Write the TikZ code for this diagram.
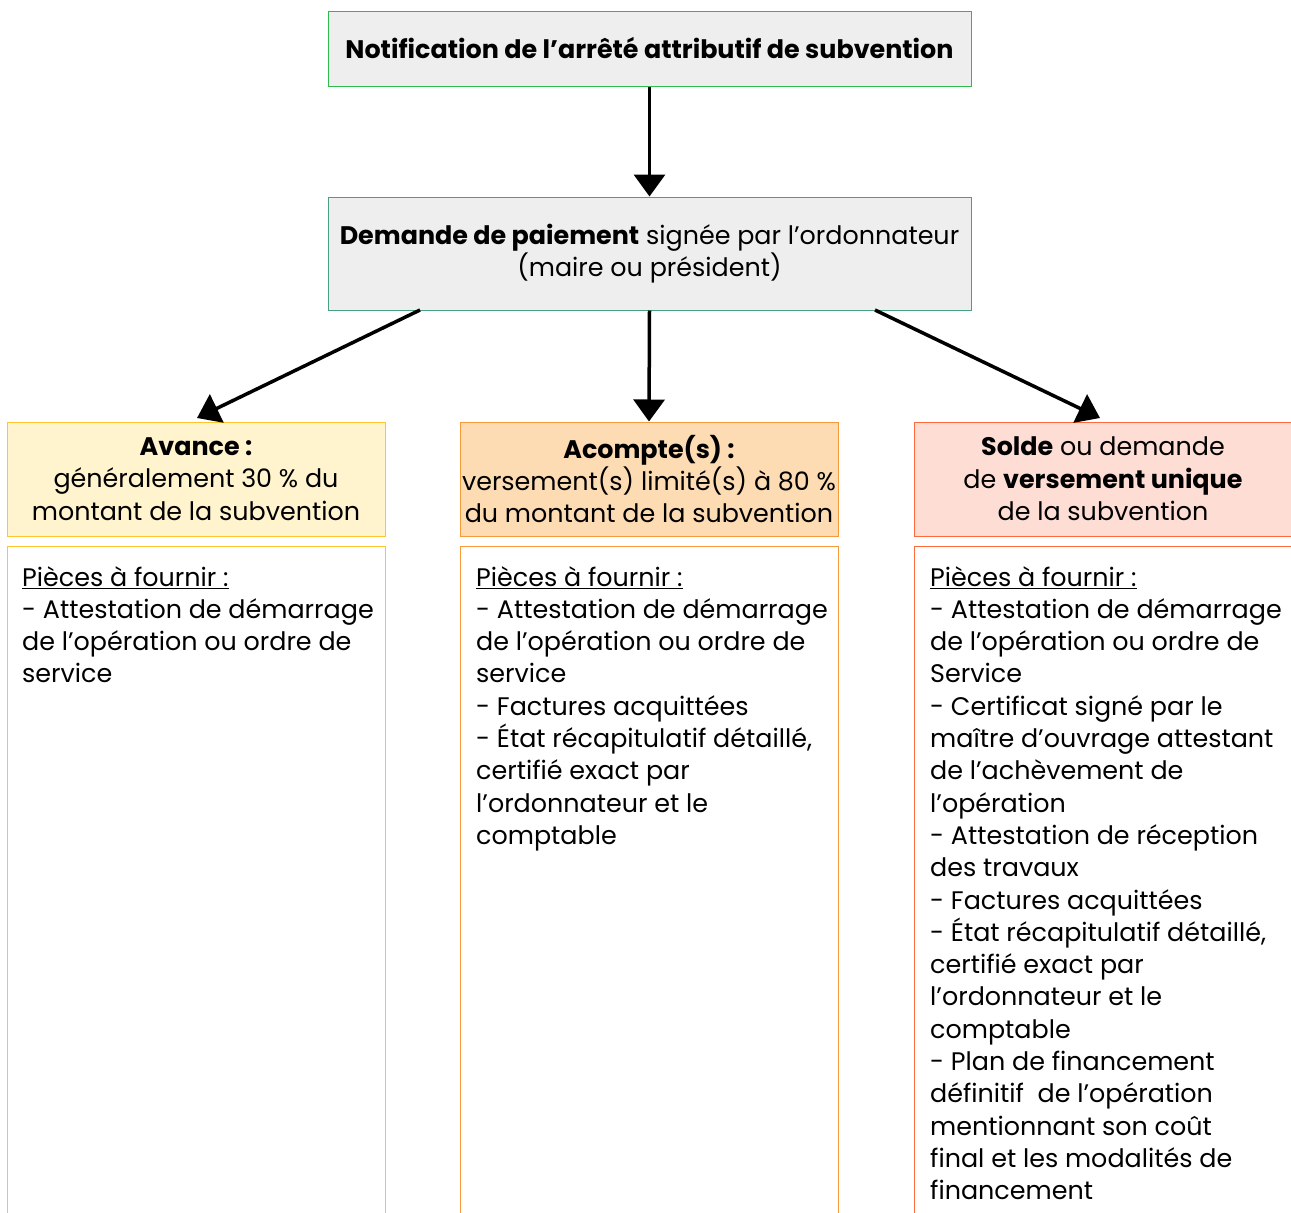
\documentclass[tikz,border=0pt]{standalone}
\usepackage{fontspec}
\setmainfont{Poppins}
\usetikzlibrary{arrows.meta}
\definecolor{boxgray}{HTML}{EEEEEE}
\definecolor{topgreen}{HTML}{2DBB4E}
\definecolor{tealb}{HTML}{4A9E82}
\definecolor{avfill}{HTML}{FFF4CE}
\definecolor{avline}{HTML}{FFC52E}
\definecolor{acfill}{HTML}{FDDBB3}
\definecolor{acline}{HTML}{F79A3A}
\definecolor{sofill}{HTML}{FDDDD4}
\definecolor{soline}{HTML}{FF6A3D}
\tikzset{
  hdr/.style={draw=#1, line width=1pt, inner sep=0pt, align=center,
    font=\fontsize{25.4}{32.3}\selectfont},
  bodytxt/.style={anchor=north west, align=left, inner sep=0pt,
    font=\fontsize{25.4}{32.3}\selectfont},
  flow/.style={line width=3.5pt, -{Triangle[length=22pt,width=31pt]}, shorten >=0pt}
}
\begin{document}
\begin{tikzpicture}[x=1pt,y=-1pt]
\useasboundingbox (0,0) rectangle (1291,1213);
\clip (0,0) rectangle (1291,1213);
% top boxes
\node[hdr=topgreen, fill=boxgray, minimum width=643pt, minimum height=75pt] (notif) at (649.5,48.5)
  {\textbf{Notification de l’arrêté attributif de subvention}};
\node[hdr=tealb, fill=boxgray, minimum width=643pt, minimum height=113pt] (dem) at (649.5,253.5)
  {\textbf{Demande de paiement} signée par l’ordonnateur\\(maire ou président)};
% header boxes
\node[hdr=avline, fill=avfill, minimum width=378pt, minimum height=114pt] (av) at (196,479)
  {\textbf{Avance :}\\généralement 30 \% du\\montant de la subvention};
\node[hdr=acline, fill=acfill, minimum width=378pt, minimum height=114pt] (ac) at (649,479)
  {\textbf{Acompte(s) :}\\versement(s) limité(s) à 80 \%\\du montant de la subvention};
\node[hdr=soline, fill=sofill, minimum width=400pt, minimum height=114pt] (so) at (1114,479)
  {};
\node[align=center, inner sep=0pt, font=\fontsize{25.4}{32.3}\selectfont] (sotxt) at (1103,479)
  {\textbf{Solde} ou demande\\de \textbf{versement unique}\\de la subvention};
% lower boxes
\draw[avline, line width=1pt] (7,1230) -- (7,546) -- (385,546) -- (385,1230);
\draw[acline, line width=1pt] (460,1230) -- (460,546) -- (838,546) -- (838,1230);
\draw[soline, line width=1pt] (914,1230) -- (914,546) -- (1300,546);
\node[bodytxt] (avb) at (22,566) {\underline{Pièces à fournir :}\\
- Attestation de démarrage\\de l’opération ou ordre de\\service};
\node[bodytxt] (acb) at (476,566) {\underline{Pièces à fournir :}\\
- Attestation de démarrage\\de l’opération ou ordre de\\service\\
- Factures acquittées\\- État récapitulatif détaillé,\\certifié exact par\\l’ordonnateur et le\\comptable};
\node[bodytxt] (sob) at (930,566) {\underline{Pièces à fournir :}\\
- Attestation de démarrage\\de l’opération ou ordre de\\Service\\
- Certificat signé par le\\maître d’ouvrage attestant\\de l’achèvement de\\l’opération\\
- Attestation de réception\\des travaux\\- Factures acquittées\\
- État récapitulatif détaillé,\\certifié exact par\\l’ordonnateur et le\\comptable\\
- Plan de financement\\définitif\ \ de l’opération\\mentionnant son coût\\final et les modalités de\\financement};
% arrows
\coordinate (d1) at (420,310);
\coordinate (d3) at (875,310);
\coordinate (avt) at (197,418);
\coordinate (sot) at (1100,418);
\draw[flow] (notif.south) -- (dem.north);
\draw[flow] (d1) -- (avt);
\draw[flow] (dem.south) -- (ac.north);
\draw[flow] (d3) -- (sot);
\end{tikzpicture}
\end{document}
